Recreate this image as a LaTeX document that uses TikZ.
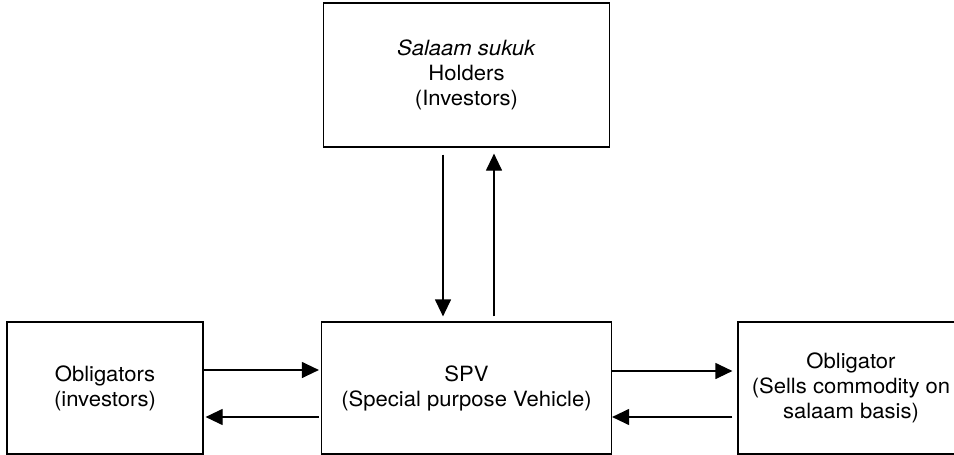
\documentclass[tikz,border=0pt]{standalone}
\usepackage{fontspec}
\setmainfont{TeX Gyre Heros}[FakeStretch=1.05]
\usetikzlibrary{arrows.meta}
\tikzset{
    box/.style={draw, line width=0.6pt, align=center, inner sep=0pt,
        minimum height=66pt, font=\fontsize{10.5}{12.5}\selectfont},
    arr/.style={line width=0.6pt, -{Triangle[length=8.5pt,width=8pt]}}
}
\begin{document}
\begin{tikzpicture}[x=0.5pt,y=-0.5pt]
    \useasboundingbox (0,0) rectangle (954,455);

    \node[box, minimum width=143pt, minimum height=72pt] (holders) at (466.5,75)
        {\textit{Salaam sukuk}\\Holders\\(Investors)};
    \node[box, minimum width=98pt] (investors) at (105,388) {Obligators\\(investors)};
    \node[box, minimum width=145pt] (spv) at (466.5,388) {SPV\\(Special purpose Vehicle)};
    \node[box, minimum width=113pt] (obligator) at (851,388)
        {Obligator\\(Sells commodity on\\salaam basis)};

    \draw[arr, shorten <=3.5pt, shorten >=2.5pt] ([xshift=-11.75pt]holders.south) -- ([xshift=-11.75pt]spv.north);
    \draw[arr, shorten <=2.5pt, shorten >=3pt] ([xshift=13.75pt]spv.north) -- ([xshift=13.75pt]holders.south);

    \draw[arr, shorten >=1pt] ([yshift=9pt]investors.east) -- ([yshift=9pt]spv.west);
    \draw[arr, shorten <=1pt, shorten >=1pt] ([yshift=-14.5pt]spv.west) -- ([yshift=-14.5pt]investors.east);
    \draw[arr, shorten >=2.5pt] ([yshift=8.5pt]spv.east) -- ([yshift=8.5pt]obligator.west);
    \draw[arr, shorten <=2.5pt] ([yshift=-14.5pt]obligator.west) -- ([yshift=-14.5pt]spv.east);
\end{tikzpicture}
\end{document}
